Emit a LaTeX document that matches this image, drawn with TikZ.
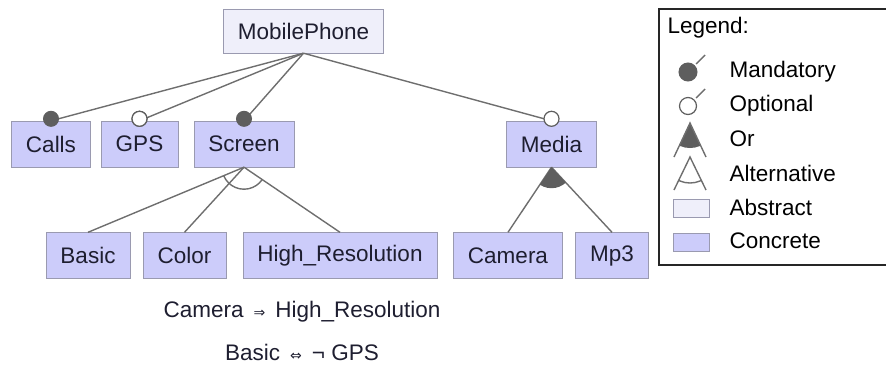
\documentclass[tikz,border=0pt]{standalone}
\usepackage{fontspec}
\setmainfont{Liberation Sans}
\newfontfamily\symf{DejaVu Sans}
\usetikzlibrary{positioning,calc}
\definecolor{concfill}{HTML}{CCCCFA}
\definecolor{absfill}{HTML}{EFEFFA}
\definecolor{boxline}{HTML}{9A9AB0}
\definecolor{edge}{HTML}{6E6E6E}
\definecolor{dot}{HTML}{5E5E5E}
\definecolor{txt}{HTML}{1E1E30}

\begin{document}
\begin{tikzpicture}[x=1pt,y=-1pt,font=\fontsize{22.5}{26}\selectfont,
  feat/.style={draw=boxline,fill=concfill,text=txt,minimum height=46pt,inner xsep=14.5pt},
  abstract/.style={feat,fill=absfill,minimum height=44pt},
  link/.style={draw=edge,line width=1.4pt},
  mand/.style={fill=dot,draw=dot,line width=1pt},
  opt/.style={fill=white,draw=dot,line width=1.2pt}]
\useasboundingbox (0,0) rectangle (886,365);
\node[abstract] (root) at (303.5,31) {MobilePhone};
\node[feat] (calls) at (51,144) {Calls};
\node[feat] (gps) at (139.5,144) {GPS};
\node[feat] (scr) at (244,144) {Screen};
\node[feat] (media) at (551.5,144) {Media};
\node[feat] (basic) at (88,255.5) {Basic};
\node[feat] (color) at (184.5,255.5) {Color};
\node[feat] (hires) at (340,255.5) {High\_Resolution};
\node[feat] (cam) at (508,255.5) {Camera};
\node[feat] (mp3) at (612,255.5) {Mp3};
% root to children
\foreach \c in {calls,gps,scr,media}
  \draw[link] (root.south) -- (\c.north);
\fill[mand] ($(calls.north)+(0,-2)$) circle (7.5pt);
\fill[opt] ($(gps.north)+(0,-2)$) circle (7.5pt);
\draw[opt] ($(gps.north)+(0,-2)$) circle (7.5pt);
\fill[mand] ($(scr.north)+(0,-2)$) circle (7.5pt);
\draw[opt] ($(media.north)+(0,-2)$) circle (7.5pt);
% alternative group
\foreach \c in {basic,color,hires}
  \draw[link] (scr.south) -- (\c.north);
\begin{scope}
  \clip (scr.south) -- (basic.north) -- (hires.north) -- cycle;
  \draw[link] (scr.south) circle (22pt);
\end{scope}
% or group
\foreach \c in {cam,mp3}
  \draw[link] (media.south) -- (\c.north);
\begin{scope}
  \clip (media.south) -- (cam.north) -- (mp3.north) -- cycle;
  \fill[dot] (media.south) circle (21pt);
\end{scope}
% constraints
\node[text=txt] (c1) at (302,312) {Camera \,{\symf\fontsize{14}{14}\selectfont ⇒}\, High\_Resolution};
\node[text=txt] (c2) at (302,352) {Basic \,{\symf\fontsize{14}{14}\selectfont ⇔}\, ¬ GPS};
% legend
\draw[line width=1.8pt,draw=black!85] (659,9) rectangle (900,265);
\node[anchor=west] (lg) at (664,28) {Legend:};
\fill[mand] (688,72) circle (9pt);
\draw[link] (696,64) -- (705,55);
\draw[opt] (688,106) circle (8.5pt);
\draw[link] (696,98) -- (705,89);
\begin{scope}
  \clip (690,123) -- (674,157) -- (706,157) -- cycle;
  \fill[dot] (690,123) circle (25pt);
\end{scope}
\draw[link] (674,157) -- (690,123) -- (706,157);
\draw[link] (674,190) -- (690,157) -- (706,190);
\begin{scope}
  \clip (690,157) -- (674,190) -- (706,190) -- cycle;
  \draw[link] (690,157) circle (26pt);
\end{scope}
\draw[draw=boxline,fill=absfill] (673,199) rectangle (709,217);
\draw[draw=boxline,fill=concfill] (673,233) rectangle (709,251);
\node[anchor=west] (l1) at (726,72) {Mandatory};
\node[anchor=west] (l2) at (726,106) {Optional};
\node[anchor=west] (l3) at (726,139) {Or};
\node[anchor=west] (l4) at (726,173) {Alternative};
\node[anchor=west] (l5) at (726,207) {Abstract};
\node[anchor=west] (l6) at (726,241) {Concrete};
\end{tikzpicture}
\end{document}
